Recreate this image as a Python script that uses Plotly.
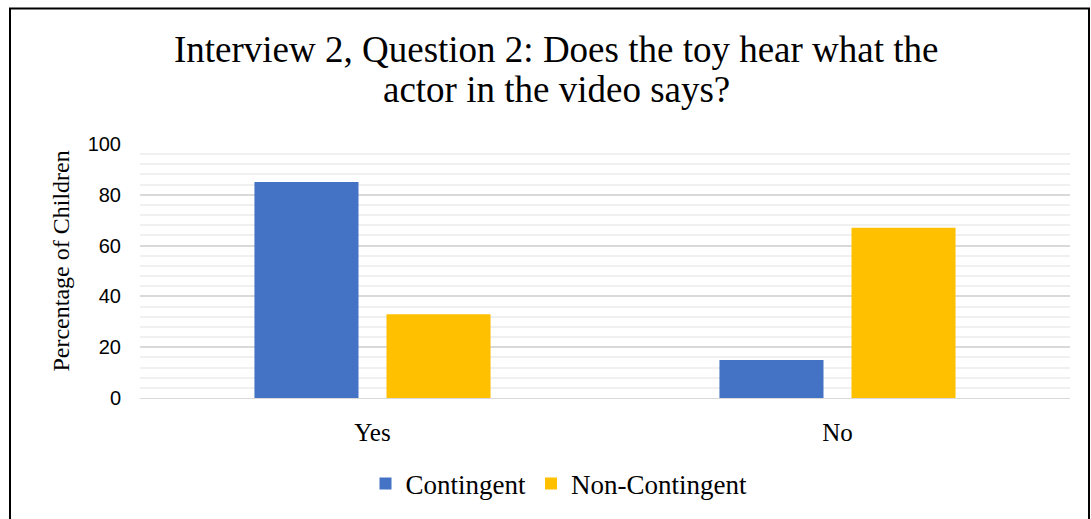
import plotly.graph_objects as go

categories = ["Yes", "No"]
contingent = [85, 15]
non_contingent = [33, 67]
y_ticks = [0, 20, 40, 60, 80, 100]
title_lines = ["Interview 2, Question 2: Does the toy hear what the",
               "actor in the video says?"]
y_title = "Percentage of Children"

W, H = 1091, 519
L, R, T, B = 140, 21, 144, 120
pw, ph = W - L - R, H - T - B

def px_to_paper_x(px):
    return (px - L) / pw

def px_to_paper_y(py):
    return (H - B - py) / ph

fig = go.Figure()
fig.add_trace(go.Bar(name="Contingent", x=categories, y=contingent,
                     marker=dict(color="#4472C4", line=dict(width=0))))
fig.add_trace(go.Bar(name="Non-Contingent", x=categories, y=non_contingent,
                     marker=dict(color="#FFC000", line=dict(width=0))))

fig.update_layout(
    width=W, height=H,
    margin=dict(l=L, r=R, t=T, b=B),
    paper_bgcolor="white", plot_bgcolor="white",
    barmode="group", bargap=0.432, bargroupgap=0.212,
    font=dict(family="Liberation Serif", color="black"),
    legend=dict(orientation="h", x=px_to_paper_x(559), xanchor="center",
                y=px_to_paper_y(484), yanchor="middle",
                font=dict(family="Liberation Serif", size=27, color="black"),
                itemwidth=30, tracegroupgap=0),
    showlegend=True,
)

# two-line chart title
for text, cy in zip(title_lines, [49, 89]):
    fig.add_annotation(text=text, xref="paper", yref="paper",
                       x=px_to_paper_x(556), y=px_to_paper_y(cy),
                       xanchor="center", yanchor="middle", showarrow=False,
                       font=dict(family="Liberation Serif", size=37, color="black"))

# rotated y-axis title
fig.add_annotation(text=y_title, xref="paper", yref="paper",
                   x=px_to_paper_x(61), y=px_to_paper_y(262),
                   xanchor="center", yanchor="middle", showarrow=False, textangle=-90,
                   font=dict(family="Liberation Serif", size=24, color="black"))

fig.update_xaxes(
    showline=True, linecolor="#d9d9d9", linewidth=1,
    tickfont=dict(family="Liberation Serif", size=25, color="black"),
    ticks="", showgrid=False, ticklabelstandoff=12,
)
fig.update_yaxes(
    range=[0, 100], tickvals=y_ticks,
    tickfont=dict(family="Liberation Sans", size=20, color="black"),
    showgrid=True, gridcolor="#d9d9d9", gridwidth=1.5,
    zeroline=False, showline=False, ticks="", ticklen=0,
    ticklabelstandoff=18,
    minor=dict(dtick=4, showgrid=True, gridcolor="#f0f0f0", gridwidth=1.5),
)

# outer chart frame
fig.add_shape(type="rect", xref="paper", yref="paper",
              x0=px_to_paper_x(10), x1=px_to_paper_x(1089),
              y0=px_to_paper_y(530), y1=px_to_paper_y(8),
              line=dict(color="black", width=2), fillcolor="rgba(0,0,0,0)",
              layer="below")

fig.write_html("out.html")
